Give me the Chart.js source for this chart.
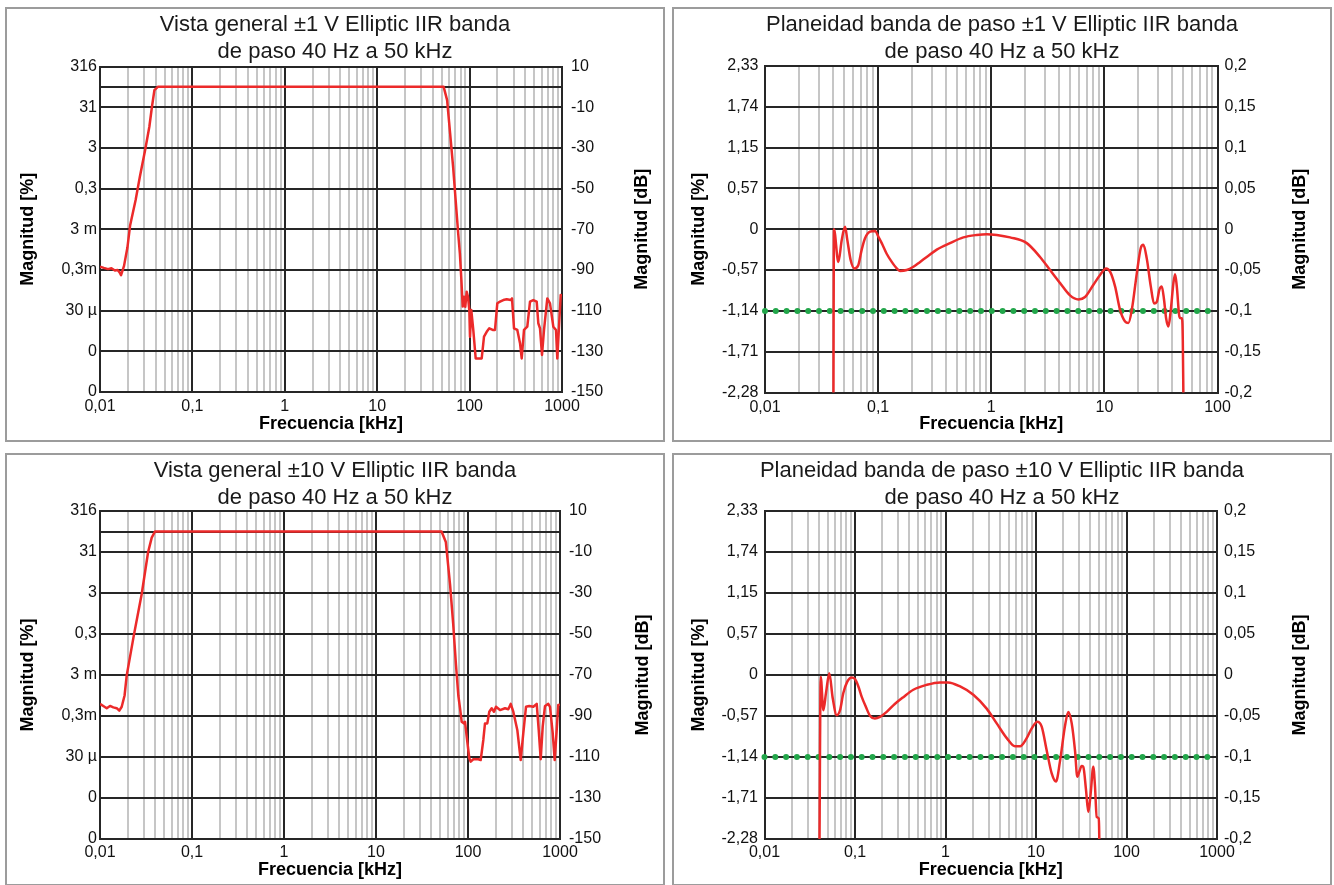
<!DOCTYPE html>
<html lang="es">
<head>
<meta charset="UTF-8">
<title>Elliptic IIR banda de paso 40 Hz a 50 kHz</title>
<script src="https://cdn.jsdelivr.net/npm/chart.js"></script>
<style>
  body { margin: 0; background: #fff; width: 1334px; height: 885px; position: relative; overflow: hidden; }
  .panel { position: absolute; box-sizing: border-box; border: 2px solid #9c9c9c; background: #fff; }
  .panel canvas { display: block; }
</style>
</head>
<body>
<div class="panel"><canvas id="vg1"></canvas></div>
<div class="panel"><canvas id="pl1"></canvas></div>
<div class="panel"><canvas id="vg10"></canvas></div>
<div class="panel"><canvas id="pl10"></canvas></div>

<script>
// eje x: frecuencia en kHz (logaritmico)
const xMajor = [0.01, 0.1, 1, 10, 100, 1000];
const xMajorLabels = ['0,01', '0,1', '1', '10', '100', '1000'];

// vista general: dB a la derecha, % a la izquierda
const dbTicks = [10, 0, -10, -30, -50, -70, -90, -110, -130, -150];
const dbPctLabels = ['316', '', '31', '3', '0,3', '3 m', '0,3m', '30 µ', '0', '0'];
const dbLabels = ['10', '', '-10', '-30', '-50', '-70', '-90', '-110', '-130', '-150'];

// planeidad
const flatTicks = [0.2, 0.15, 0.1, 0.05, 0, -0.05, -0.1, -0.15, -0.2];
const flatPctLabels = ['2,33', '1,74', '1,15', '0,57', '0', '-0,57', '-1,14', '-1,71', '-2,28'];
const flatLabels = ['0,2', '0,15', '0,1', '0,05', '0', '-0,05', '-0,1', '-0,15', '-0,2'];
const flatLimit = -0.1;

// ±1 V vista general
const freq1V = [0.01, 0.011, 0.0122, 0.0133, 0.0145, 0.0155, 0.0163, 0.0169, 0.0182, 0.0198, 0.0212, 0.0243, 0.027, 0.0308, 0.0342, 0.0365, 0.0388, 0.0422, 1, 52.4,
  57.1, 61.5, 66.3, 70.6, 75.3, 78.5, 81.5, 83.5, 84.2, 87.0, 89.8, 93.0, 96.1, 99.3, 101.0, 104.3, 109.6, 116.4, 135.2, 143.2,
  153.1, 163.4, 177.8, 188.3, 199.4, 213.3, 231.6, 252.1, 278.6, 287.7, 302.4, 328.3, 351.2, 366.4, 387.9, 421.2, 450.5, 489.1, 532.4, 554.1,
  578.1, 607.6, 638.7, 693.3, 741.5, 805.3, 861.2, 889.4, 928, 968.2, 1000];
const mag1V = [-88.4, -89.0, -89.6, -89.2, -90.3, -90.0, -91.2, -92.6, -88.0, -79.0, -68.0, -55.6, -44.2, -31.0, -19.6, -9.8, -1.6, 0, 0, 0,
  -6.5, -22.8, -39.3, -55.6, -72.2, -82, -95, -104.8, -108, -103.2, -108.1, -100.7, -103.2, -109.7, -122.8, -109.7, -119.5, -133.5, -133.5, -122.8,
  -120.4, -118.7, -119.5, -119.5, -106.4, -105.6, -104.8, -104.4, -104.8, -104, -118.7, -119.5, -126, -133.5, -119.5, -117.9, -105.6, -104.8, -105.6, -116.2,
  -118.7, -131.8, -119.5, -104, -106.4, -117.9, -119.5, -133.5, -117.9, -102.3, -103];

// ±10 V vista general
const freq10V = [0.01, 0.01086, 0.01183, 0.01285, 0.01395, 0.01519, 0.01621, 0.01722, 0.0185, 0.0195, 0.0234, 0.0284, 0.0333, 0.0365, 0.0396, 1, 51.6,
  57.4, 63.9, 69.0, 74.0, 78.5, 83.3, 85.4, 90.5, 92.8, 96.8, 103.3, 107.0, 114.2, 129.4, 137.4, 146.7, 153.0, 162.1, 170.4,
  180.9, 191.6, 201.5, 222.8, 252.5, 274.2, 291.2, 310.8, 343.5, 374.0, 399.1, 426.9, 463.8, 512.7, 558.3, 586.9, 617.0, 648.6,
  687.1, 746.3, 778.7, 833.2, 876.0, 920.6, 958.4, 1000];
const mag10V = [-84.1, -85.1, -86.2, -85.1, -85.8, -86.2, -87.4, -85.5, -80.0, -70.3, -50.3, -30.5, -10.1, -3.0, 0, 0, 0,
  -5.1, -26.2, -45.0, -65.0, -80.0, -88.7, -92.8, -93.6, -92.8, -100.1, -110.6, -112.3, -111.1, -111.1, -111.5, -101.7, -93.6, -93.6, -87.9,
  -86.2, -87.9, -85.5, -87.1, -86.2, -86.7, -84.1, -87.9, -96.8, -111.5, -98.4, -85.5, -85.1, -85.5, -84.1, -96.8, -111.1, -95.2,
  -85.1, -84.1, -85.5, -98.4, -111.5, -96.8, -84.6, -84.5];

// ±1 V planeidad (dB)
const flatFreq1V = [0.0402, 0.0407, 0.0445, 0.0477, 0.0510, 0.0534, 0.0572, 0.0616, 0.0668, 0.0716, 0.0766, 0.0848, 0.0939, 0.1004, 0.1076, 0.119, 0.132,
  0.146, 0.156, 0.179, 0.205, 0.235, 0.269, 0.330, 0.432, 0.567, 0.744, 0.913, 1.118, 1.466, 2.06, 2.70, 3.31, 4.06, 4.97, 5.89,
  6.75, 8.0, 9.16, 10.35, 11.23, 12.43, 13.77, 15.24, 16.30, 17.47, 19.35, 20.98, 22.12, 23.71, 25.72, 27.50, 29.06, 30.64,
  32.18, 33.73, 35.13, 36.81, 38.65, 40.75, 42.18, 43.67, 46.04, 47.37, 48.64, 49.34, 49.94, 50.2];
const flatMag1V = [-0.25, 0.000, -0.040, -0.013, 0.003, -0.013, -0.038, -0.048, -0.044, -0.025, -0.011, -0.003, -0.002, -0.009, -0.017, -0.030, -0.040,
  -0.048, -0.051, -0.050, -0.046, -0.040, -0.034, -0.025, -0.017, -0.010, -0.007, -0.006, -0.007, -0.010, -0.017, -0.034, -0.050, -0.066, -0.081, -0.086,
  -0.083, -0.068, -0.056, -0.048, -0.052, -0.070, -0.099, -0.113, -0.115, -0.099, -0.054, -0.023, -0.019, -0.036, -0.070, -0.091, -0.089, -0.074,
  -0.070, -0.087, -0.109, -0.119, -0.099, -0.066, -0.055, -0.070, -0.107, -0.109, -0.109, -0.136, -0.201, -0.25];

// ±10 V planeidad (dB)
const flatFreq10V = [0.0403, 0.0418, 0.0447, 0.0478, 0.0520, 0.0567, 0.0628, 0.0683, 0.0743, 0.0822, 0.0920, 0.1000, 0.109, 0.119, 0.132, 0.147,
  0.166, 0.189, 0.224, 0.265, 0.342, 0.441, 0.620, 0.870, 1.07, 1.45, 2.03, 2.85, 3.68, 4.75, 5.86, 6.66, 7.89, 8.97, 10.34,
  11.56, 13.13, 14.91, 16.63, 18.42, 20.92, 22.75, 24.81, 26.97, 28.60, 30.09, 31.99, 33.32, 35.69, 37.84, 40.22, 42.97,
  44.87, 46.85, 49.30, 50.05, 50.4];
const flatMag10V = [-0.25, -0.002, -0.043, -0.022, 0.002, -0.028, -0.049, -0.043, -0.022, -0.008, -0.003, -0.005, -0.014, -0.027, -0.039, -0.050,
  -0.053, -0.051, -0.045, -0.037, -0.027, -0.018, -0.012, -0.009, -0.009, -0.014, -0.024, -0.041, -0.059, -0.077, -0.087, -0.087, -0.077, -0.065, -0.057,
  -0.063, -0.092, -0.120, -0.130, -0.105, -0.062, -0.045, -0.059, -0.092, -0.124, -0.118, -0.111, -0.112, -0.140, -0.167, -0.144, -0.112,
  -0.136, -0.173, -0.175, -0.201, -0.25];

const subtitle = 'de paso 40 Hz a 50 kHz';

const BORDER = 2;
const RED = '#ec2a2a';
const GREEN = '#22a64a';
const MAJOR = '#262626';
const MINOR = '#c6c6c6';
const FONT = '"Liberation Sans", Arial, sans-serif';

Chart.defaults.font.family = FONT;
Chart.defaults.color = '#111';

// 1..9 por decada para la rejilla logaritmica
function logGrid(majors) {
  const out = [];
  majors.forEach((d, i) => {
    out.push(d);
    if (i < majors.length - 1) for (let m = 2; m <= 9; m++) out.push(d * m);
  });
  return out;
}

// Chart.js gira el titulo derecho hacia abajo; aqui se lee de abajo arriba
function rightAxisTitle(text, x) {
  return {
    id: 'rightAxisTitle',
    afterDraw(chart) {
      const {ctx, chartArea} = chart;
      ctx.save();
      ctx.translate(x, (chartArea.top + chartArea.bottom) / 2);
      ctx.rotate(-Math.PI / 2);
      ctx.font = 'bold 18px ' + FONT;
      ctx.fillStyle = '#000';
      ctx.textAlign = 'center';
      ctx.textBaseline = 'middle';
      ctx.fillText(text, 0, 0);
      ctx.restore();
    }
  };
}

function drawPanel(p, d) {
  const canvas = document.getElementById(p.canvas);
  const box = canvas.parentElement;
  const [bx, by, bw, bh] = p.box;
  Object.assign(box.style, {left: bx + 'px', top: by + 'px', width: bw + 'px', height: bh + 'px'});
  const w = bw - 2 * BORDER, h = bh - 2 * BORDER;
  const ox = bx + BORDER, oy = by + BORDER;
  canvas.width = w;
  canvas.height = h;

  const [pl, pr, pt, pb] = p.plot;
  const leftW = pl - ox, rightW = ox + w - pr;
  const topH = pt - oy, bottomH = oy + h - pb;

  const majors = xMajor.filter(v => v <= d.xMax);
  const majorIndex = v => majors.findIndex(m => Math.abs(v - m) < m * 1e-6);

  const datasets = [{
    data: d.freq.map((f, i) => ({x: f, y: d.mag[i]})),
    borderColor: RED,
    borderWidth: 2.5,
    borderJoinStyle: 'round',
    pointRadius: 0,
    cubicInterpolationMode: d.smooth ? 'monotone' : 'default',
    tension: 0
  }];
  if (d.limit !== undefined) {
    datasets.push({
      data: [{x: majors[0], y: d.limit}, {x: d.xMax, y: d.limit}],
      borderColor: GREEN,
      borderWidth: 6,
      borderDash: [0, 10.8],
      borderCapStyle: 'round',
      pointRadius: 0,
      clip: false
    });
  }

  const tickFont = {size: 16};
  const axisTitleFont = {size: 18, weight: 'bold'};

  return new Chart(canvas, {
    type: 'line',
    data: {datasets},
    options: {
      responsive: false,
      animation: false,
      devicePixelRatio: 1,
      events: [],
      layout: {padding: 0, autoPadding: false},
      plugins: {
        legend: {display: false},
        tooltip: {enabled: false},
        title: {
          display: true,
          text: d.title,
          color: '#1a1a1a',
          font: {size: 22, weight: 'normal'},
          padding: {top: 3, bottom: topH - 2 * 22 * 1.2 - 3}
        }
      },
      scales: {
        x: {
          type: 'logarithmic',
          min: majors[0],
          max: d.xMax,
          afterBuildTicks: s => { s.ticks = logGrid(majors).map(v => ({value: v})); },
          afterFit: s => { s.height = bottomH; s.paddingLeft = 0; s.paddingRight = 0; },
          grid: {
            color: c => (c.tick && majorIndex(c.tick.value) >= 0) ? MAJOR : MINOR,
            lineWidth: 2,
            drawTicks: false
          },
          border: {color: MAJOR, width: 2},
          ticks: {
            callback: v => { const i = majorIndex(v); return i < 0 ? '' : xMajorLabels[i]; },
            autoSkip: false, maxRotation: 0, minRotation: 0,
            padding: p.xPad, font: tickFont, color: '#111'
          },
          title: {
            display: true, text: 'Frecuencia [kHz]', color: '#000', font: axisTitleFont,
            padding: {top: 0, bottom: oy + h - p.xTitleY - 18 * 1.2 / 2}
          }
        },
        y: {
          position: 'left',
          min: d.yMin,
          max: d.yMax,
          afterBuildTicks: s => { s.ticks = d.yTicks.map(v => ({value: v})); },
          afterFit: s => { s.width = leftW; s.paddingTop = 0; s.paddingBottom = 0; },
          grid: {color: MAJOR, lineWidth: 2, drawTicks: false},
          border: {color: MAJOR, width: 2},
          ticks: {
            callback: (v, i) => d.leftLabels[i],
            autoSkip: false, padding: p.leftPad, font: tickFont, color: '#111'
          },
          title: {
            display: true, text: 'Magnitud [%]', color: '#000', font: axisTitleFont,
            padding: {top: p.leftTitleX - ox - 18 * 1.2 / 2, bottom: 0}
          }
        },
        y2: {
          position: 'right',
          min: d.yMin,
          max: d.yMax,
          afterBuildTicks: s => { s.ticks = d.yTicks.map(v => ({value: v})); },
          afterFit: s => { s.width = rightW; s.paddingTop = 0; s.paddingBottom = 0; },
          grid: {drawOnChartArea: false, drawTicks: false},
          border: {color: MAJOR, width: 2},
          ticks: {
            callback: (v, i) => d.rightLabels[i],
            autoSkip: false, padding: p.rightPad, font: tickFont, color: '#111'
          }
        }
      }
    },
    plugins: [rightAxisTitle('Magnitud [dB]', p.rightTitleX - ox)]
  });
}

// posicion de cada panel en la pagina (px)
const panels = {
  vg1:  {canvas: 'vg1',  box: [5, 7, 660, 435],   plot: [100, 562, 66.5, 392],   leftTitleX: 28,  rightTitleX: 642,  xTitleY: 424.5, leftPad: 3,   rightPad: 9, xPad: 5},
  pl1:  {canvas: 'pl1',  box: [672, 7, 660, 435], plot: [765, 1217.5, 66, 392.5], leftTitleX: 699, rightTitleX: 1300, xTitleY: 424.5, leftPad: 6.5, rightPad: 7, xPad: 5},
  vg10: {canvas: 'vg10', box: [5, 453, 660, 433], plot: [100, 560, 511, 839],     leftTitleX: 28,  rightTitleX: 643,  xTitleY: 870.3, leftPad: 3,   rightPad: 9, xPad: 4},
  pl10: {canvas: 'pl10', box: [672, 453, 660, 433], plot: [764.5, 1217, 511, 839], leftTitleX: 699, rightTitleX: 1300, xTitleY: 870.3, leftPad: 6.5, rightPad: 7, xPad: 4}
};

drawPanel(panels.vg1, {
  title: ['Vista general ±1 V Elliptic IIR banda', subtitle],
  freq: freq1V, mag: mag1V, xMax: 1000,
  yMin: -150, yMax: 10, yTicks: dbTicks, leftLabels: dbPctLabels, rightLabels: dbLabels
});
drawPanel(panels.pl1, {
  title: ['Planeidad banda de paso ±1 V Elliptic IIR banda', subtitle],
  freq: flatFreq1V, mag: flatMag1V, xMax: 100, smooth: true, limit: flatLimit,
  yMin: -0.2, yMax: 0.2, yTicks: flatTicks, leftLabels: flatPctLabels, rightLabels: flatLabels
});
drawPanel(panels.vg10, {
  title: ['Vista general ±10 V Elliptic IIR banda', subtitle],
  freq: freq10V, mag: mag10V, xMax: 1000,
  yMin: -150, yMax: 10, yTicks: dbTicks, leftLabels: dbPctLabels, rightLabels: dbLabels
});
drawPanel(panels.pl10, {
  title: ['Planeidad banda de paso ±10 V Elliptic IIR banda', subtitle],
  freq: flatFreq10V, mag: flatMag10V, xMax: 1000, smooth: true, limit: flatLimit,
  yMin: -0.2, yMax: 0.2, yTicks: flatTicks, leftLabels: flatPctLabels, rightLabels: flatLabels
});
</script>
</body>
</html>
